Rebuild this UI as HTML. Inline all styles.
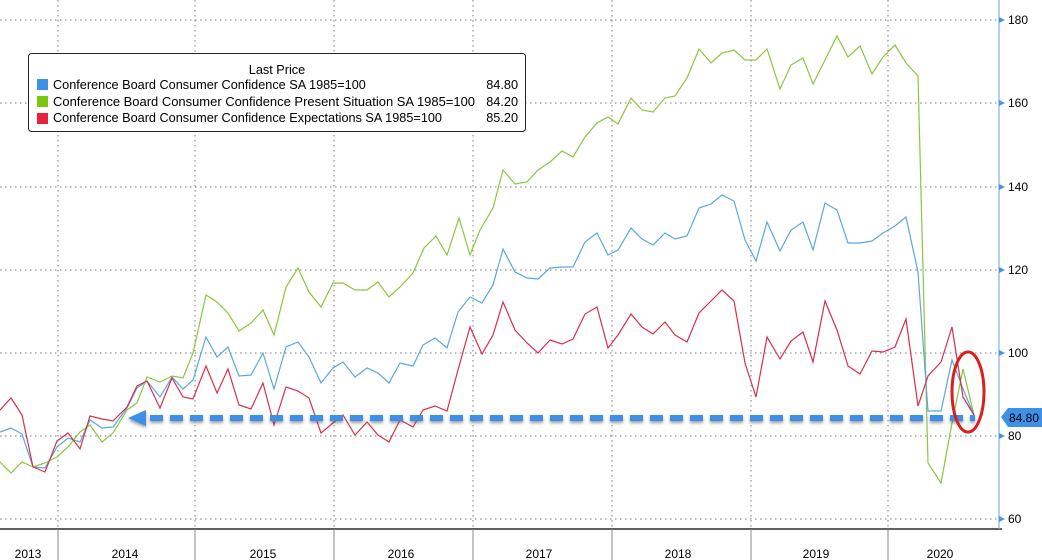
<!DOCTYPE html>
<html><head><meta charset="utf-8"><style>
html,body{margin:0;padding:0;background:#fff;}
svg{display:block;font-family:"Liberation Sans",sans-serif;}
</style></head><body>
<svg width="1042" height="560" viewBox="0 0 1042 560" xmlns="http://www.w3.org/2000/svg">
<defs>
<filter id="sh" x="-5%" y="-50%" width="110%" height="250%"><feDropShadow dx="0" dy="2" stdDeviation="1.5" flood-color="#555" flood-opacity="0.6"/></filter>
</defs>
<rect width="1042" height="560" fill="#fff"/>
<g stroke="#777" stroke-width="1" stroke-dasharray="1.5,3.5" fill="none">
<line x1="0" y1="20" x2="998" y2="20"/>
<line x1="0" y1="103" x2="998" y2="103"/>
<line x1="0" y1="187" x2="998" y2="187"/>
<line x1="0" y1="270" x2="998" y2="270"/>
<line x1="0" y1="353" x2="998" y2="353"/>
<line x1="0" y1="436" x2="998" y2="436"/>
<line x1="0" y1="519" x2="998" y2="519"/>
<line x1="58" y1="0" x2="58" y2="529"/>
<line x1="195" y1="0" x2="195" y2="529"/>
<line x1="334" y1="0" x2="334" y2="529"/>
<line x1="473" y1="0" x2="473" y2="529"/>
<line x1="612" y1="0" x2="612" y2="529"/>
<line x1="751" y1="0" x2="751" y2="529"/>
<line x1="888" y1="0" x2="888" y2="529"/>
</g>
<line x1="0" y1="529" x2="1002" y2="529" stroke="#000" stroke-width="1.2"/>
<g stroke="#888" stroke-width="1">
<line x1="58" y1="529" x2="58" y2="560"/><line x1="195" y1="529" x2="195" y2="560"/><line x1="334" y1="529" x2="334" y2="560"/><line x1="473" y1="529" x2="473" y2="560"/><line x1="612" y1="529" x2="612" y2="560"/><line x1="751" y1="529" x2="751" y2="560"/><line x1="888" y1="529" x2="888" y2="560"/>
</g>
<g font-size="12" fill="#000" text-anchor="middle">
<text x="28" y="558">2013</text><text x="125" y="558">2014</text><text x="263" y="558">2015</text><text x="401" y="558">2016</text><text x="539" y="558">2017</text><text x="678" y="558">2018</text><text x="816" y="558">2019</text><text x="940" y="558">2020</text>
</g>
<line x1="999" y1="0" x2="999" y2="529" stroke="#7fb2df" stroke-width="1.2"/>
<g fill="#4a90e2">
<polygon points="999,17 1005,20 999,23"/><polygon points="999,100 1005,103 999,106"/><polygon points="999,184 1005,187 999,190"/><polygon points="999,267 1005,270 999,273"/><polygon points="999,350 1005,353 999,356"/><polygon points="999,433 1005,436 999,439"/><polygon points="999,516 1005,519 999,522"/>
</g>
<g font-size="12" fill="#000">
<text x="1008" y="24">180</text><text x="1008" y="107">160</text><text x="1008" y="191">140</text><text x="1008" y="274">120</text><text x="1008" y="357">100</text><text x="1008" y="440">80</text><text x="1008" y="523">60</text>
</g>
<polyline fill="none" stroke="#8cc63f" stroke-width="1.2" points="0,462 11,473 22,462 33,467 45,463 57,457 68,447 80,432 90,425 102,442 113,433 127,410 137,403 147,377 160,382 172,376 183,378 193,353 206,295 217,302 228,313 239,331 251,323 263,310 274,335 286,287 298,268 309,292 321,307 333,283 343,283 355,290 367,290 378,282 389,297 400,287 413,273 424,248 436,236 447,255 459,218 470,255 480,230 493,208 503,170 515,184 527,182 538,170 550,162 562,151 573,157 585,137 597,123 608,117 618,124 631,98 642,110 653,112 665,98 675,96 687,78 699,49 711,63 722,53 734,50 745,60 756,60 767,49 780,89 791,65 803,58 813,84 825,60 837,36 848,57 860,46 872,74 883,57 895,45 906,63 918,76 928,463 941,483 952,423 963,369 974,415"/>
<polyline fill="none" stroke="#5aa8e0" stroke-width="1.2" points="0,432 11,428 22,434 33,467 45,468 57,447 68,438 80,442 90,420 102,428 113,427 127,408 137,388 147,381 160,397 172,377 183,389 193,380 206,337 217,357 228,347 239,376 251,375 263,353 274,389 286,347 298,342 309,357 321,383 333,368 343,362 355,377 367,368 378,373 389,383 400,363 413,366 423,345 435,338 447,348 458,312 470,297 482,303 493,285 503,249 515,272 527,278 538,279 550,268 562,267 573,267 585,242 597,233 608,255 618,250 631,228 642,239 653,245 665,233 675,239 687,236 699,208 711,204 722,195 734,201 745,240 756,261 767,222 780,251 791,230 803,222 813,250 825,203 837,210 848,243 860,243 872,241 883,233 895,226 906,217 918,272 928,411 941,411 952,360 963,389 974,415"/>
<polyline fill="none" stroke="#d8304a" stroke-width="1.2" points="0,410 11,398 22,415 33,467 45,472 57,441 68,433 80,449 90,416 102,419 113,421 127,407 137,386 147,381 160,408 172,378 183,397 193,399 206,366 217,393 228,369 239,405 251,409 263,383 274,425 286,387 298,391 309,398 321,433 333,423 343,415 355,435 367,422 378,435 389,442 400,420 413,427 423,410 435,406 447,411 458,370 470,327 482,354 493,335 503,302 515,330 527,343 538,353 550,340 562,344 573,339 585,314 597,307 608,348 618,335 631,314 642,327 653,334 665,322 675,335 687,342 699,313 711,301 722,290 734,301 745,363 756,397 767,337 780,359 791,341 803,332 813,362 825,301 837,330 848,366 860,374 872,351 883,352 895,347 906,319 918,406 928,376 941,362 952,327 963,397 974,415"/>
<g filter="url(#sh)">
<line x1="150" y1="418" x2="975" y2="418" stroke="#3d8fe8" stroke-width="6" stroke-dasharray="13,7"/>
<polygon points="128,418 146,410 146,426" fill="#3d8fe8"/>
</g>
<ellipse cx="968" cy="392" rx="16" ry="40" fill="none" stroke="#d82020" stroke-width="3"/>
<polygon points="1001,417 1008,408 1042,408 1042,427 1008,427" fill="#3d8fe8"/>
<text x="1009" y="422" font-size="12" fill="#000">84.80</text>
<rect x="28.5" y="53.5" width="497" height="78" rx="3" fill="#fff" stroke="#222" stroke-width="1"/>
<g font-size="12.7" fill="#000">
<text x="277" y="74" text-anchor="middle">Last Price</text>
<rect x="37" y="79" width="11" height="11" fill="#3d8fe8"/>
<rect x="37" y="96" width="11" height="11" fill="#7ac70c"/>
<rect x="37" y="113" width="11" height="11" fill="#e8213d"/>
<text x="53" y="89">Conference Board Consumer Confidence SA 1985=100</text>
<text x="53" y="106" textLength="422" lengthAdjust="spacingAndGlyphs">Conference Board Consumer Confidence Present Situation SA 1985=100</text>
<text x="53" y="122">Conference Board Consumer Confidence Expectations SA 1985=100</text>
<text x="518" y="89" text-anchor="end">84.80</text>
<text x="518" y="106" text-anchor="end">84.20</text>
<text x="518" y="122" text-anchor="end">85.20</text>
</g>
</svg>
</body></html>
